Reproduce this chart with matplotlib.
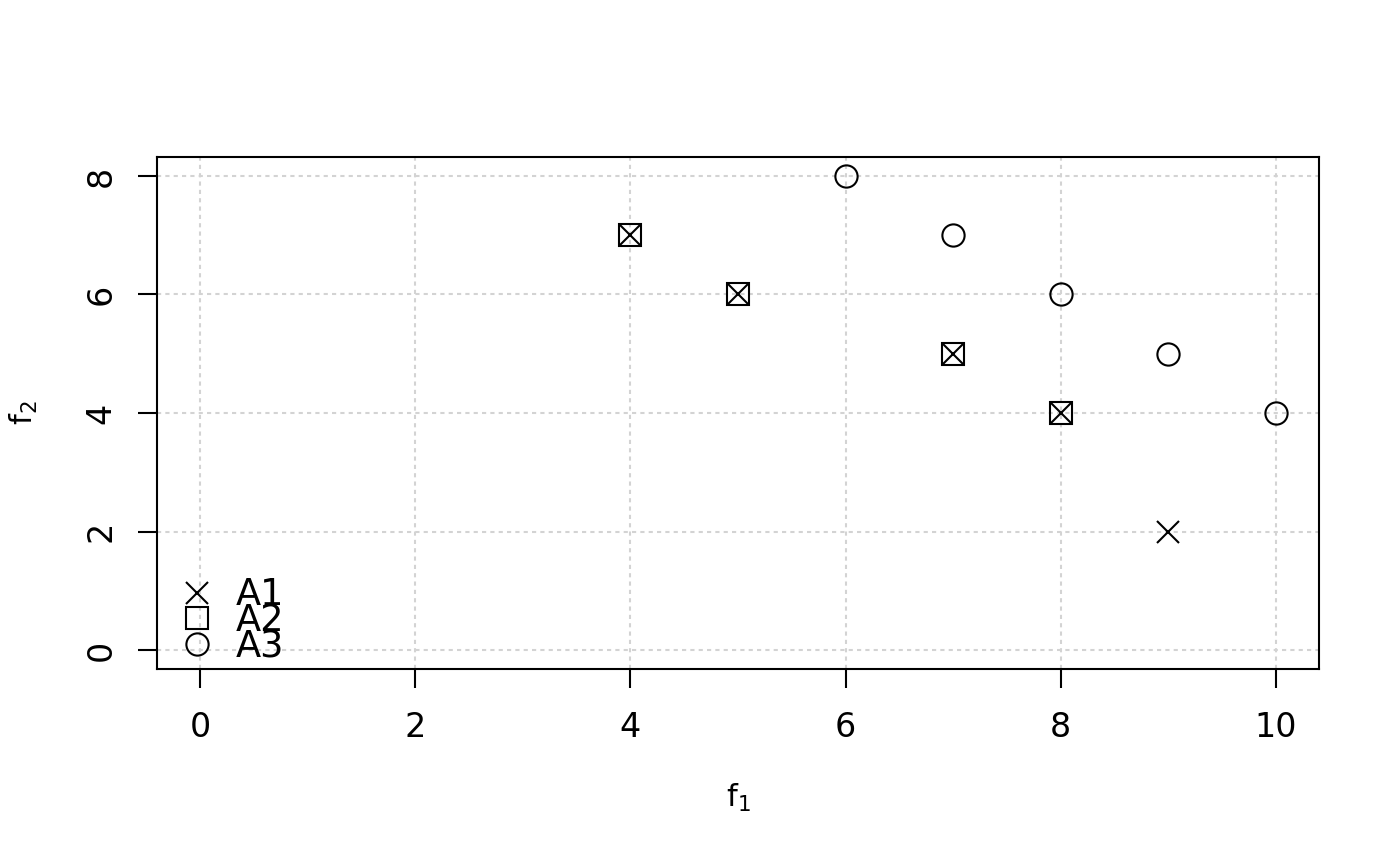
import matplotlib
matplotlib.use("Agg")
import matplotlib.pyplot as plt
from matplotlib.lines import Line2D

# alternatives in objective space (f1, f2)
a1_f1 = [4, 5, 7, 8, 9]
a1_f2 = [7, 6, 5, 4, 2]
a2_f1 = [4, 5, 7, 8]
a2_f2 = [7, 6, 5, 4]
a3_f1 = [6, 7, 8, 9, 10]
a3_f2 = [8, 7, 6, 5, 4]
labels = ["A1", "A2", "A3"]
xticks = [0, 2, 4, 6, 8, 10]
yticks = [0, 2, 4, 6, 8]

plt.rcParams["font.family"] = "DejaVu Sans"
fig = plt.figure(figsize=(14, 8.66), dpi=100)
ax = fig.add_axes([0.1121, 0.2275, 0.830, 0.5912])

ms = 16
mew = 1.5
ax.plot(a1_f1, a1_f2, ls="none", marker="x", ms=ms, mew=mew, color="black", zorder=3)
ax.plot(a2_f1, a2_f2, ls="none", marker="s", ms=ms, mew=mew, mfc="none", color="black", zorder=3)
ax.plot(a3_f1, a3_f2, ls="none", marker="o", ms=ms, mew=mew, mfc="none", color="black", zorder=3)

ax.set_xlim(-0.4, 10.4)
ax.set_ylim(-0.32, 8.32)
ax.set_xticks(xticks)
ax.set_yticks(yticks)
ax.grid(True, color="lightgray", ls=(0, (2, 2)), lw=1.5)
ax.set_axisbelow(True)
for s in ax.spines.values():
    s.set_linewidth(1.5)

ax.tick_params(length=13.5, width=1.5, labelsize=24)
ax.tick_params(axis="x", pad=17)
ax.tick_params(axis="y", pad=15)
plt.setp(ax.get_yticklabels(), rotation=90, va="center")
ax.set_xlabel("f$_1$", fontsize=22, labelpad=27)
ax.set_ylabel("f$_2$", fontsize=22, labelpad=32)

handles = [
    Line2D([], [], ls="none", marker="x", ms=ms, mew=mew, color="black"),
    Line2D([], [], ls="none", marker="s", ms=ms, mew=mew, mfc="none", color="black"),
    Line2D([], [], ls="none", marker="o", ms=ms, mew=mew, mfc="none", color="black"),
]
ax.legend(handles, labels, loc="lower left", frameon=False, fontsize=26.5,
          labelspacing=-0.3, handlelength=2.0, handletextpad=0.05,
          borderaxespad=0.0, borderpad=0.1)

fig.savefig("out.png", dpi=100)
